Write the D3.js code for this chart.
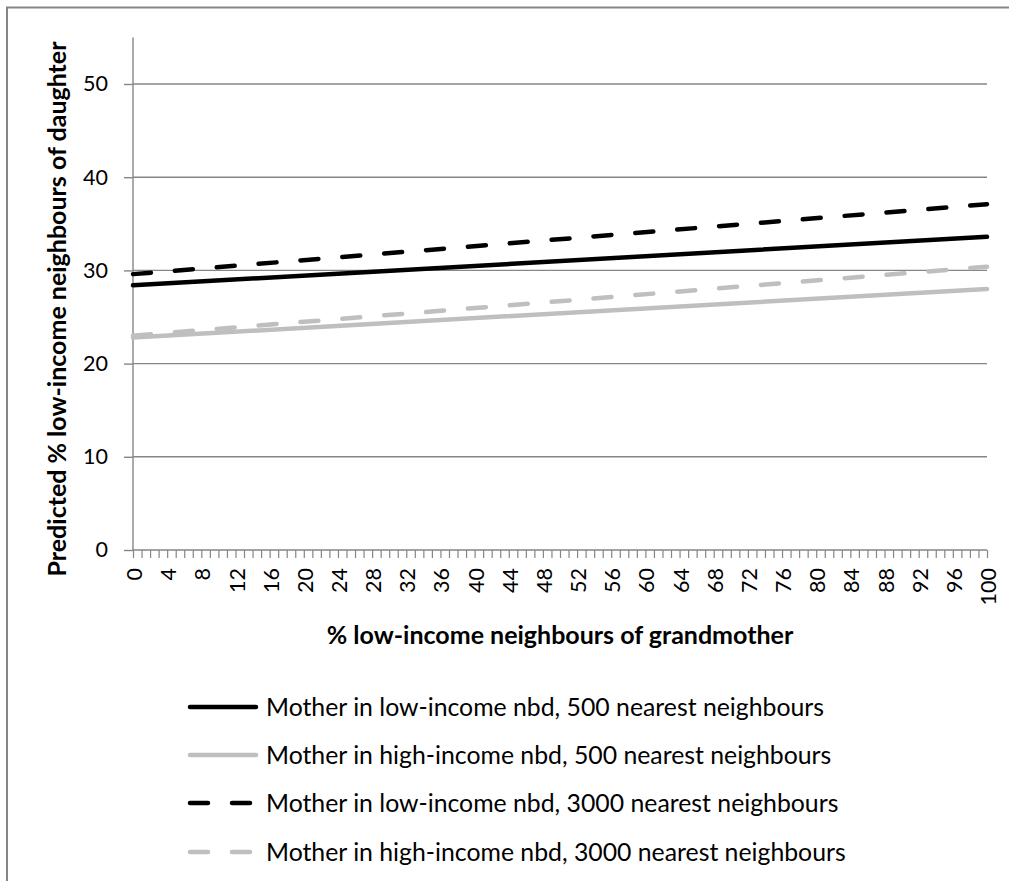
<!DOCTYPE html>
<html>
<head>
<meta charset="utf-8">
<script src="https://cdn.jsdelivr.net/npm/d3@7"></script>
<style>
  html, body { margin: 0; padding: 0; background: #fff; }
  svg { display: block; font-family: Lato, "Open Sans", sans-serif; }
</style>
</head>
<body>
<svg id="chart" width="1009" height="881"></svg>
<script>
// ---- data ----
const categories = d3.range(0, 101);            // category axis 0..100
const xTickLabels = d3.range(0, 101, 4);         // labelled categories
const yTicks = [0, 10, 20, 30, 40, 50];
const seriesX = [0, 100];                        // straight predicted lines: endpoints
const lowIncome500 = [28.4, 33.6];
const highIncome500 = [22.8, 28.0];
const lowIncome3000 = [29.6, 37.1];
const highIncome3000 = [23.0, 30.4];
const seriesNames = [
  "Mother in low-income nbd, 500 nearest neighbours",
  "Mother in high-income nbd, 500 nearest neighbours",
  "Mother in low-income nbd, 3000 nearest neighbours",
  "Mother in high-income nbd, 3000 nearest neighbours"
];
const xTitle = "% low-income neighbours of grandmother";
const yTitle = "Predicted % low-income neighbours of daughter";

const series = [
  { name: seriesNames[0], values: lowIncome500, color: "#000000", dash: null },
  { name: seriesNames[1], values: highIncome500, color: "#bfbfbf", dash: null },
  { name: seriesNames[2], values: lowIncome3000, color: "#000000", dash: "18 24" },
  { name: seriesNames[3], values: highIncome3000, color: "#bfbfbf", dash: "18 24" }
];

// ---- layout ----
const svg = d3.select("#chart");
const plot = { left: 133, right: 987, top: 37.4, bottom: 550 };
const axisColor = "#868686";
const tickFont = 21.5;
const titleFont = 25;
const legendFont = 24.8;

// chart frame (extends past the right/bottom of the picture)
svg.append("rect")
  .attr("x", 7).attr("y", 7.5)
  .attr("width", 1020).attr("height", 900)
  .attr("fill", "#fff").attr("stroke", axisColor).attr("stroke-width", 2);

const x = d3.scalePoint().domain(categories).range([plot.left, plot.right]);
const y = d3.scaleLinear().domain([0, 55]).range([plot.bottom, plot.top]);

// gridlines
svg.append("g").selectAll("line")
  .data(yTicks.filter(d => d > 0))
  .join("line")
  .attr("x1", plot.left).attr("x2", plot.right)
  .attr("y1", d => y(d)).attr("y2", d => y(d))
  .attr("stroke", axisColor).attr("stroke-width", 1.4);

// y axis
const yAxis = svg.append("g")
  .attr("transform", `translate(${plot.left},0)`)
  .call(d3.axisLeft(y).tickValues(yTicks).tickSize(9).tickPadding(16).tickFormat(d3.format("d")));
yAxis.select(".domain").attr("stroke", axisColor).attr("stroke-width", 1.4)
  .attr("d", `M0,${plot.top}V${plot.bottom}`);
yAxis.selectAll(".tick line").attr("stroke", axisColor).attr("stroke-width", 1.4);
yAxis.selectAll(".tick text").attr("font-size", tickFont).attr("fill", "#000")
  .attr("font-family", "Lato");

// x axis
const xAxis = svg.append("g")
  .attr("transform", `translate(0,${plot.bottom})`)
  .call(d3.axisBottom(x).tickValues(categories).tickSize(8).tickFormat(""));
xAxis.select(".domain").attr("stroke", axisColor).attr("stroke-width", 1.4)
  .attr("d", `M${plot.left},0H${plot.right}`);
xAxis.selectAll(".tick line").attr("stroke", axisColor).attr("stroke-width", 1.2);

svg.append("g").selectAll("text")
  .data(xTickLabels)
  .join("text")
  .attr("transform", d => `translate(${x(d) + 1.5},${plot.bottom + 18}) rotate(-90)`)
  .attr("text-anchor", "end")
  .attr("dy", "0.35em")
  .attr("font-size", tickFont)
  .attr("fill", "#000")
  .text(d => d);

// axis titles
svg.append("text")
  .attr("x", 560).attr("y", 644)
  .attr("text-anchor", "middle")
  .attr("font-size", titleFont).attr("font-weight", "bold")
  .text(xTitle);

svg.append("text")
  .attr("transform", `translate(66,309) rotate(-90)`)
  .attr("text-anchor", "middle")
  .attr("font-size", titleFont).attr("font-weight", "bold")
  .text(yTitle);

// lines
const line = d3.line().x((d, i) => x(seriesX[i])).y(d => y(d));
svg.append("g").selectAll("path")
  .data(series)
  .join("path")
  .attr("d", d => line(d.values))
  .attr("fill", "none")
  .attr("stroke", d => d.color)
  .attr("stroke-width", 4.5)
  .attr("stroke-linecap", "round")
  .attr("stroke-dasharray", d => d.dash);

// legend
const legendRows = [707, 755, 803, 852];
const legend = svg.append("g").selectAll("g")
  .data(series)
  .join("g")
  .attr("transform", (d, i) => `translate(0,${legendRows[i]})`);
legend.append("line")
  .attr("x1", 190).attr("x2", 256)
  .attr("y1", 0).attr("y2", 0)
  .attr("stroke", d => d.color)
  .attr("stroke-width", 4.5)
  .attr("stroke-linecap", "round")
  .attr("stroke-dasharray", d => d.dash);
legend.append("text")
  .attr("x", 266).attr("y", 0)
  .attr("dy", "0.35em")
  .attr("font-size", legendFont)
  .attr("fill", "#000")
  .text(d => d.name);
</script>
</body>
</html>
